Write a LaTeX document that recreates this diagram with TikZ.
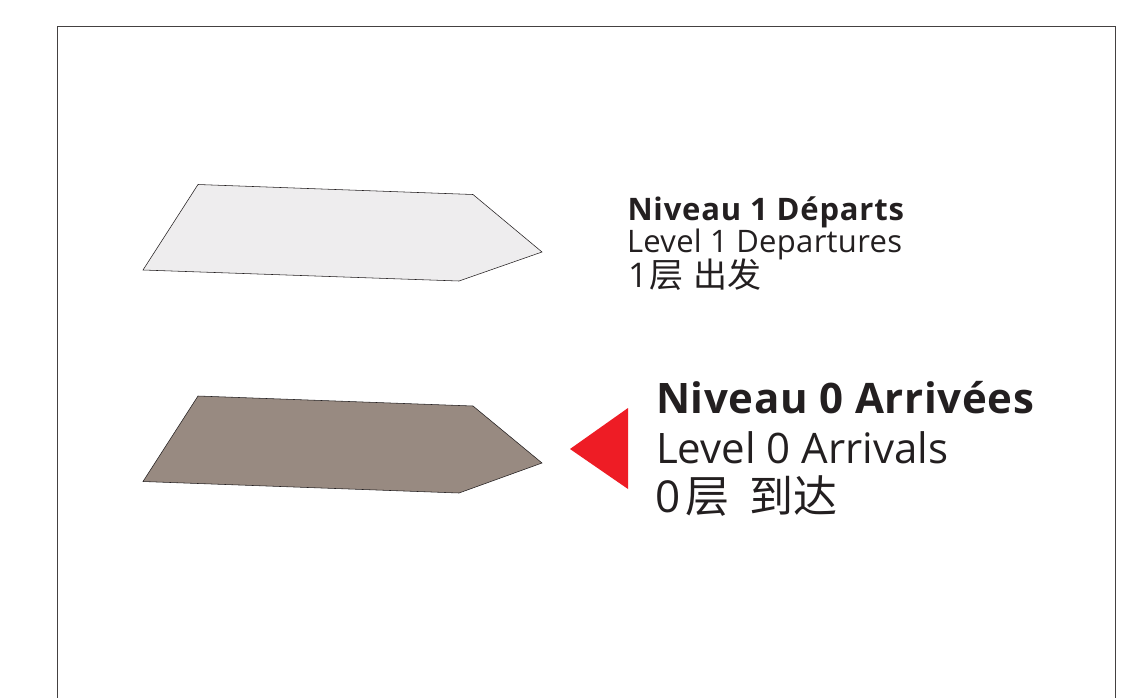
\documentclass[tikz,border=0pt]{standalone}
\usepackage{fontspec}
\setmainfont{Open Sans}
\newfontfamily\cjk{Noto Sans CJK SC}
\newfontfamily\smallbold[LetterSpace=2.6]{Open Sans Bold}
\newfontfamily\smallreg[LetterSpace=1]{Open Sans}
\newfontfamily\bigbold[LetterSpace=1.6]{Open Sans Bold}
\newfontfamily\bigreg{Open Sans}
\definecolor{lightfill}{HTML}{EEEDEE}
\definecolor{darkfill}{HTML}{988A81}
\definecolor{redtri}{HTML}{EE1C25}
\definecolor{ink}{HTML}{231F20}
\tikzset{x=1pt,y=-1pt,
  slab/.style={draw=ink,line width=0.55pt,line join=miter},
  lab/.style={anchor=base west,inner sep=0pt,outer sep=0pt,text=ink}}
\begin{document}
\begin{tikzpicture}
\useasboundingbox (0,0) rectangle (1144,697);
\fill[white] (0,0) rectangle (1144,697);
\draw[draw=ink!85,line width=0.8pt] (57,700) -- (57,26.5) -- (1115.5,26.5) -- (1115.5,700);
\draw[slab,fill=lightfill] (198,184.5) -- (473,194.5) -- (542,252) -- (459,281) -- (143,270) -- cycle;
\draw[slab,fill=darkfill] (198,396) -- (473,406) -- (542,463) -- (459,493) -- (143,481.5) -- cycle;
\fill[redtri] (628,408) -- (628,489) -- (570,449) -- cycle;
\node[lab,font=\smallbold\fontsize{31}{31}\selectfont] (a1) at (627.5,220) {Niveau 1 Départs};
\node[lab,font=\smallreg\fontsize{31}{31}\selectfont] (a2) at (627,252) {Level 1 Departures};
\node[lab,font=\smallreg\fontsize{34}{34}\selectfont] (a3) at (628,287.5) {1{\cjk\hspace{2.5pt}层\hspace{9.5pt}出发}};
\node[lab,font=\bigbold\fontsize{42}{42}\selectfont] (b1) at (656,413) {Niveau 0 Arrivées};
\node[lab,font=\bigreg\fontsize{42}{42}\selectfont] (b2) at (656,463) {Level 0 Arrivals};
\node[lab,font=\bigreg\fontsize{44}{44}\selectfont] (b3) at (655.5,512.5) {0{\cjk\hspace{5pt}层\hspace{20pt}到达}};
\end{tikzpicture}
\end{document}
